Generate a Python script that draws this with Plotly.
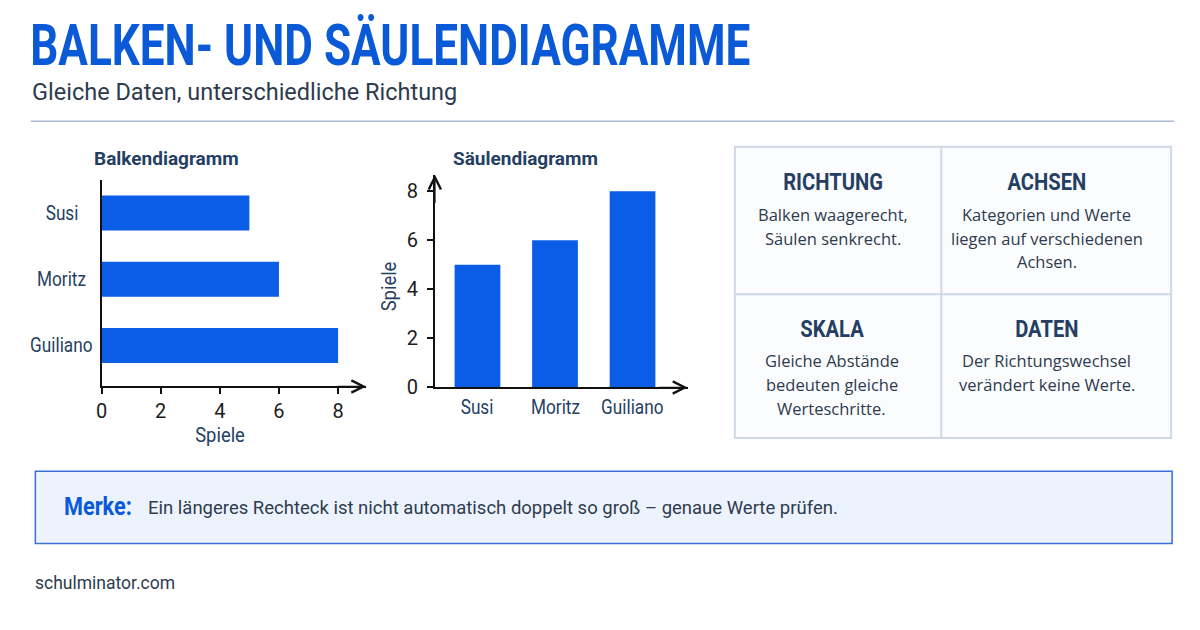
import json
import plotly.graph_objects as go

# ---- data ----
categories = ["Susi", "Moritz", "Guiliano"]
spiele = [5, 6, 8]
value_ticks = [0, 2, 4, 6, 8]

W, H = 1200, 630
def px(x): return x / W
def py(y): return 1 - y / H

BLUE = "#0b5ce6"
TITLE_BLUE = "#0a5ad8"
NAVY = "#253f63"
TXT = "#2e3b4e"
AX = "Roboto, Noto Sans, sans-serif"
BODY = "Open Sans, Noto Sans, Lato, sans-serif"

fig = go.Figure()

fig.add_trace(go.Bar(
    x=spiele, y=categories, orientation="h", marker=dict(color=BLUE, line=dict(width=0)),
    xaxis="x", yaxis="y", showlegend=False, hoverinfo="skip", width=0.53))
fig.add_trace(go.Bar(
    x=categories, y=spiele, marker=dict(color=BLUE, line=dict(width=0)),
    xaxis="x2", yaxis="y2", showlegend=False, hoverinfo="skip", width=0.59))

fig.update_layout(
    width=W, height=H, margin=dict(l=0, r=0, t=0, b=0),
    paper_bgcolor="white", plot_bgcolor="rgba(0,0,0,0)",
    xaxis=dict(domain=[px(96), px(362)], range=[0, 8.95], tickvals=value_ticks,
               showgrid=False, zeroline=False, showline=True, linecolor="#111", linewidth=1.5,
               ticks="outside", ticklen=6, tickwidth=1.5, tickcolor="#111", ticklabelstandoff=0,
               tickfont=dict(family=AX, size=20, color="#1c1c1c"), anchor="y"),
    yaxis=dict(domain=[py(394), py(184)], type="category", categoryorder="array",
               categoryarray=categories, range=[2.62, -0.49], showticklabels=False,
               showgrid=False, zeroline=False, showline=True, linecolor="#111", linewidth=1.5,
               ticks="", anchor="x"),
    xaxis2=dict(domain=[px(431), px(685)], type="category", categoryorder="array",
                categoryarray=categories, range=[-0.55, 2.71], showticklabels=False,
                showgrid=False, zeroline=False, showline=True, linecolor="#111", linewidth=1.5,
                ticks="", anchor="y2"),
    yaxis2=dict(domain=[py(395), py(178)], range=[0, 8.68], tickvals=value_ticks,
                showgrid=False, zeroline=False, showline=True, linecolor="#111", linewidth=1.5,
                ticks="outside", ticklen=6, tickwidth=1.5, tickcolor="#111", ticklabelstandoff=5,
                tickfont=dict(family=AX, size=20, color="#1c1c1c"), anchor="x2"),
)

ann = []
def text(x, y, s, size, color, family, xanchor="left", bold=False, angle=0,
         xref="paper", yref="paper"):
    ann.append(dict(x=(px(x) if xref == "paper" else x), y=(py(y) if yref == "paper" else y),
                    xref=xref, yref=yref, text=s, showarrow=False,
                    xanchor=xanchor, yanchor="middle", textangle=angle,
                    font=dict(family=family, size=size, color=color,
                              weight="bold" if bold else "normal")))

# header
TITLE = "BALKEN- UND SÄULENDIAGRAMME"
text(22, 46.5, TITLE, 57, TITLE_BLUE, AX, bold=True)
text(24, 94, "Gleiche Daten, unterschiedliche Richtung", 23.5, TXT, AX)

# chart titles and axis titles
text(86, 161.5, "Balkendiagramm", 19, NAVY, AX, bold=True)
text(447, 161.5, "Säulendiagramm", 19, NAVY, AX, bold=True)
text(215, 443.5, "Spiele", 20, NAVY, AX, xanchor="center")
text(385, 292, "Spiele", 20, NAVY, AX, xanchor="center", angle=-90)
# category labels, placed on the category axes
for c in categories:
    text(56, c, c, 20, NAVY, AX, xanchor="center", yref="y")
    text(c, 415, c, 20, NAVY, AX, xanchor="center", xref="x2")

# axis arrows
arrow = dict(showarrow=True, arrowhead=5, arrowsize=1.6, arrowwidth=1.5, arrowcolor="#111", text="",
             axref="pixel", ayref="pixel")
ann.append(dict(x=1, y=0, xref="x domain", yref="y domain", ax=-30, ay=0, **arrow))
ann.append(dict(x=1, y=0, xref="x2 domain", yref="y2 domain", ax=-30, ay=0, **arrow))
ann.append(dict(x=0, y=1, xref="x2 domain", yref="y2 domain", ax=0, ay=30, **arrow))

# info grid
cells = [
    (831, 186, "RICHTUNG", ["Balken waagerecht,", "Säulen senkrecht."]),
    (1046, 186, "ACHSEN", ["Kategorien und Werte", "liegen auf verschiedenen", "Achsen."]),
    (830, 335, "SKALA", ["Gleiche Abstände", "bedeuten gleiche", "Werteschritte."]),
    (1046, 335, "DATEN", ["Der Richtungswechsel", "verändert keine Werte."]),
]
for cx, cy, head, lines in cells:
    text(cx, cy, head, 23.5, NAVY, AX, xanchor="center", bold=True)
    for i, ln in enumerate(lines):
        text(cx, cy + 33 + i * 24, ln, 16.5, TXT, BODY, xanchor="center")

# Merke box
text(56, 516, "Merke:", 25.5, TITLE_BLUE, AX, bold=True)
text(141, 518, "Ein längeres Rechteck ist nicht automatisch doppelt so groß – genaue Werte prüfen.", 18.5, TXT, AX)
text(27, 594.5, "schulminator.com", 17.5, TXT, AX)

fig.update_layout(annotations=ann)

shapes = [
    dict(type="line", x0=px(25), x1=px(1174), y0=py(123.5), y1=py(123.5), xref="paper", yref="paper",
         line=dict(color="#a9b9cf", width=1.5)),
    dict(type="rect", x0=px(732.5), x1=px(1171), y0=py(149.5), y1=py(446.5), xref="paper", yref="paper",
         line=dict(color="#cfd8e4", width=2), fillcolor="#fbfcfe", layer="below"),
    dict(type="line", x0=px(940), x1=px(940), y0=py(149.5), y1=py(446.5), xref="paper", yref="paper",
         line=dict(color="#cfd8e4", width=2)),
    dict(type="line", x0=px(732.5), x1=px(1171), y0=py(300), y1=py(300), xref="paper", yref="paper",
         line=dict(color="#cfd8e4", width=2)),
    dict(type="rect", x0=px(29.5), x1=px(1172), y0=py(480.5), y1=py(554), xref="paper", yref="paper",
         line=dict(color="#3a6fd6", width=1.5), fillcolor="#edf3fd", layer="below"),
]
fig.update_layout(shapes=shapes)

# horizontal condensing of the condensed-style texts (text stays real SVG text)
squeeze = {TITLE: [0.774, "left center"], "Merke:": [0.85, "left center"],
           "RICHTUNG": [0.86, "center"], "ACHSEN": [0.86, "center"],
           "SKALA": [0.86, "center"], "DATEN": [0.86, "center"],
           "Spiele": [0.92, "center"]}
for c in categories:
    squeeze[c] = [0.86, "center"]

post = """
document.body.style.margin='0';document.body.style.overflow='hidden';
var SQ = %s;
var gd = document.getElementById('{plot_id}');
gd.querySelectorAll('text.annotation-text').forEach(function(t){
  var k = t.textContent;
  if (SQ.hasOwnProperty(k)) {
    t.style.transformBox = 'fill-box';
    t.style.transformOrigin = SQ[k][1];
    t.style.transform = 'scaleX(' + SQ[k][0] + ')';
  }
});
""" % json.dumps(squeeze, ensure_ascii=False)

fig.write_html("out.html", config={"displayModeBar": False}, post_script=post)
